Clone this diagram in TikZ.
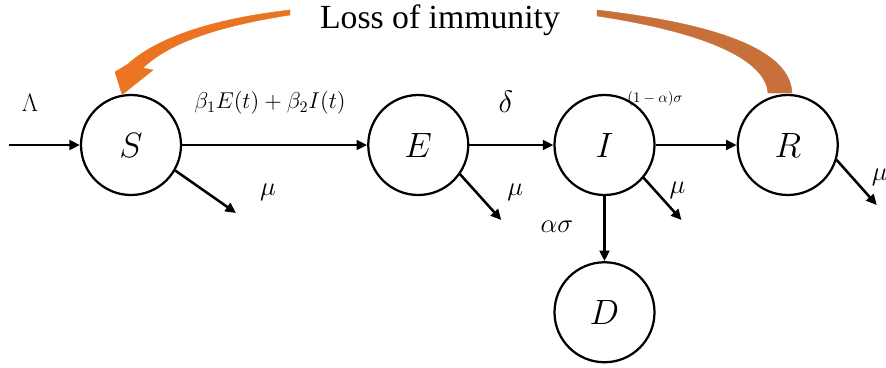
\RequirePackage{fix-cm}
\documentclass[tikz,border=0pt]{standalone}
\usepackage{amsmath, amsfonts, amssymb}
\usepackage[no-math]{fontspec}
\setmainfont{Liberation Serif}
\usepackage{tikz}
\usetikzlibrary{arrows.meta, positioning, calc}
\definecolor{lossleft}{RGB}{234,116,34}
\definecolor{lossright}{RGB}{200,112,58}

\begin{document}
\begin{tikzpicture}[
	node distance=2.1cm and 2.1cm,
	state/.style={circle, draw=black, line width=1.6pt, minimum size=2.5cm, inner sep=0pt, font=\fontsize{25}{30}\selectfont},
	edge/.style={-{Triangle[length=7.5pt, width=7pt]}, line width=1.8pt},
	rate/.style={font=\fontsize{19}{22}\selectfont},
	lossarrow/.style={fill=#1, draw=#1, line width=0.3pt}
]
\useasboundingbox (0,0) rectangle (22.15,-9.175);

% Nodes
\node[state] (S) at (3.275,-3.625) {$S$};
\node[state] (E) [right=4.625cm of S] {$E$};
\node[state] (I) [right=2.1cm of E] {$I$};
\node[state] (R) [right=2.025cm of I] {$R$};
\node[state] (D) [below=1.625cm of I] {$D$};

% Free ends
\coordinate[left=1.775cm of S] (in);
\coordinate (muS) at ($(S)+(2.625,-1.7)$);
\coordinate (muE) at ($(E)+(2.075,-1.875)$);
\coordinate (muI) at ($(I)+(1.925,-1.875)$);
\coordinate (muR) at ($(R)+(2.225,-1.5)$);

% Transitions
\draw[edge] (in) -- (S);
\draw[edge] (S) -- (E);
\draw[edge] (E) -- (I);
\draw[edge] (I) -- (R);
\draw[edge] (I) -- (D);

% Deaths
\draw[edge] (S.-30) -- (muS);
\draw[edge] (E.-35) -- (muE);
\draw[edge] (I.-40) -- (muI);
\draw[edge] (R.-17) -- (muR);

% Labels
\node[font=\fontsize{18}{21}\selectfont] (lam) at (0.75,-2.575) {$\Lambda$};
\node[font=\fontsize{16.3}{19}\selectfont] (inf) at (6.75,-2.575) {$\beta_1E(t)+\beta_2I(t)$};
\node[font=\fontsize{22}{26}\selectfont] (del) at (12.65,-2.55) {$\delta$};
\node[font=\fontsize{10.5}{13}\selectfont] (rec) at (16.375,-2.475) {$(1-\alpha)\sigma$};
\node[font=\fontsize{19}{22}\selectfont] (dead) at (13.925,-5.675) {$\alpha\sigma$};
\node[rate] (mu1) at ($(S)+(3.425,-1.175)$) {$\mu$};
\node[rate] (mu2) at ($(E)+(2.425,-1.175)$) {$\mu$};
\node[rate] (mu3) at ($(I)+(1.825,-1.125)$) {$\mu$};
\node[rate] (mu4) at ($(R)+(2.3,-0.8)$) {$\mu$};

% Loss of immunity
\node[font=\fontsize{24}{28}\selectfont] (loss) at (11,-0.5) {Loss of immunity};
\fill[lossarrow=lossleft] (7.25,-0.25) .. controls (5.5,-0.45) and (4,-0.875) .. (3.2,-1.6)
	-- (2.875,-1.8) -- (S.100) -- (3.825,-1.75) -- (3.575,-1.7)
	.. controls (4.25,-1.05) and (5.5,-0.65) .. (7.25,-0.375) -- cycle;
\fill[lossarrow=lossright] (14.925,-0.25) .. controls (17.5,-0.55) and (19.75,-1.125) .. (19.8,-2.325)
	-- (19.2,-2.325) .. controls (19.125,-1.375) and (17.25,-0.75) .. (14.925,-0.4) -- cycle;

\end{tikzpicture}
\end{document}
